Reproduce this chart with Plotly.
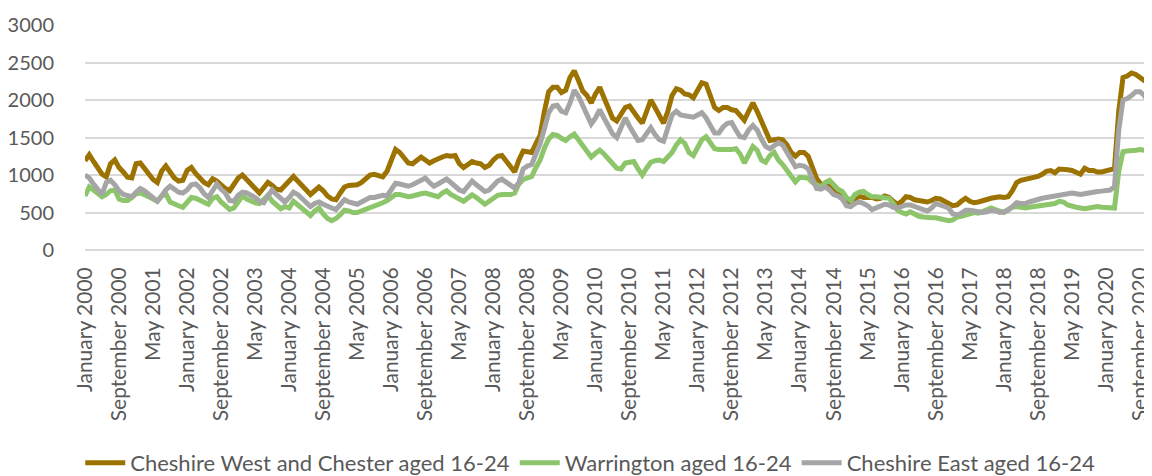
import plotly.graph_objects as go

# monthly claimant counts, January 2000 - January 2021 (one line per year)
cheshire_west = [
    1190, 1270, 1180, 1090, 1010, 975, 1150, 1200, 1100, 1040, 970, 960,      # 2000
    1150, 1160, 1090, 1010, 940, 900, 1050, 1120, 1040, 960, 920, 930,        # 2001
    1060, 1100, 1020, 960, 900, 870, 950, 920, 860, 820, 790, 880,            # 2002
    960, 1000, 950, 880, 820, 760, 830, 900, 860, 810, 800, 850,              # 2003
    920, 980, 930, 860, 800, 740, 790, 840, 790, 720, 680, 670,               # 2004
    760, 840, 860, 870, 870, 900, 950, 1000, 1010, 990, 975, 1050,            # 2005
    1200, 1340, 1300, 1220, 1160, 1150, 1200, 1240, 1200, 1160, 1190, 1220,   # 2006
    1240, 1260, 1250, 1260, 1150, 1100, 1150, 1180, 1160, 1150, 1100, 1130,   # 2007
    1200, 1250, 1260, 1180, 1100, 1040, 1200, 1320, 1310, 1300, 1420, 1530,   # 2008
    1850, 2110, 2170, 2170, 2100, 2130, 2300, 2390, 2260, 2120, 2060, 1960,   # 2009
    2080, 2170, 2030, 1900, 1760, 1720, 1820, 1900, 1920, 1830, 1760, 1690,   # 2010
    1850, 2000, 1900, 1780, 1690, 1850, 2060, 2150, 2130, 2080, 2070, 2030,   # 2011
    2120, 2230, 2210, 2060, 1900, 1860, 1900, 1900, 1870, 1860, 1800, 1730,   # 2012
    1850, 1960, 1850, 1720, 1580, 1460, 1470, 1480, 1470, 1400, 1300, 1250,   # 2013
    1300, 1300, 1250, 1080, 950, 880, 860, 860, 790, 760, 720, 630,           # 2014
    620, 680, 720, 700, 700, 700, 680, 690, 720, 700, 650, 610,               # 2015
    650, 710, 700, 670, 660, 650, 640, 660, 690, 680, 640, 620,               # 2016
    590, 600, 650, 690, 650, 630, 640, 660, 680, 690, 700, 710,               # 2017
    700, 710, 790, 900, 930, 940, 950, 960, 980, 1010, 1050, 1060,            # 2018
    1030, 1080, 1080, 1070, 1060, 1040, 1010, 1090, 1060, 1060, 1040, 1040,   # 2019
    1050, 1060, 1085, 1850, 2300, 2320, 2360, 2340, 2300, 2280, 2240, 2180,   # 2020
    2080,                                                                      # 2021
]

warrington = [
    720, 840, 800, 760, 710, 740, 790, 800, 680, 660, 660, 700,               # 2000
    750, 760, 740, 710, 680, 650, 720, 750, 640, 610, 590, 570,               # 2001
    640, 700, 690, 660, 630, 610, 690, 710, 640, 600, 540, 560,               # 2002
    640, 720, 680, 650, 630, 620, 680, 730, 650, 590, 550, 580,               # 2003
    560, 650, 600, 540, 490, 460, 520, 560, 480, 420, 390, 420,               # 2004
    470, 530, 520, 500, 500, 520, 540, 570, 580, 600, 630, 660,               # 2005
    700, 740, 740, 720, 710, 720, 740, 750, 760, 740, 720, 710,               # 2006
    760, 790, 740, 700, 680, 650, 700, 735, 700, 650, 610, 650,               # 2007
    690, 730, 740, 735, 740, 760, 880, 940, 960, 980, 1100, 1200,             # 2008
    1360, 1480, 1540, 1530, 1490, 1460, 1510, 1545, 1470, 1390, 1320, 1240,   # 2009
    1290, 1330, 1280, 1220, 1150, 1090, 1080, 1160, 1170, 1180, 1080, 1000,   # 2010
    1090, 1170, 1190, 1200, 1180, 1250, 1300, 1400, 1470, 1420, 1300, 1260,   # 2011
    1380, 1470, 1510, 1420, 1350, 1340, 1340, 1330, 1340, 1350, 1280, 1160,   # 2012
    1280, 1380, 1330, 1200, 1170, 1260, 1300, 1200, 1140, 1060, 980, 910,     # 2013
    970, 960, 960, 900, 860, 840, 900, 930, 870, 810, 780, 700,               # 2014
    660, 740, 770, 780, 740, 710, 710, 700, 700, 690, 620, 530,               # 2015
    500, 480, 510, 480, 450, 440, 430, 430, 430, 420, 410, 390,               # 2016
    400, 440, 450, 470, 480, 500, 490, 510, 540, 560, 540, 520,               # 2017
    500, 540, 570, 580, 570, 560, 570, 580, 590, 600, 605, 610,               # 2018
    620, 650, 640, 600, 580, 570, 560, 550, 560, 575, 580, 570,               # 2019
    570, 565, 560, 1050, 1310, 1320, 1320, 1330, 1340, 1330, 1300, 1250,      # 2020
    1210,                                                                      # 2021
]

cheshire_east = [
    1000, 960, 880, 800, 740, 900, 930, 870, 790, 740, 720, 710,              # 2000
    770, 820, 790, 740, 690, 650, 720, 800, 850, 800, 770, 760,               # 2001
    800, 870, 880, 830, 750, 700, 800, 880, 810, 760, 660, 650,               # 2002
    730, 770, 760, 730, 700, 650, 630, 720, 800, 740, 680, 640,               # 2003
    700, 770, 740, 690, 620, 580, 620, 640, 610, 580, 560, 540,               # 2004
    600, 670, 640, 620, 610, 640, 680, 700, 700, 710, 730, 720,               # 2005
    820, 890, 880, 860, 850, 870, 900, 930, 960, 900, 850, 880,               # 2006
    920, 945, 900, 850, 800, 780, 860, 920, 870, 820, 780, 800,               # 2007
    870, 920, 945, 900, 860, 825, 900, 1080, 1120, 1140, 1280, 1420,          # 2008
    1620, 1830, 1920, 1930, 1850, 1830, 1960, 2130, 2050, 1920, 1800, 1680,   # 2009
    1760, 1870, 1760, 1650, 1550, 1500, 1620, 1760, 1650, 1560, 1460, 1470,   # 2010
    1550, 1630, 1540, 1470, 1450, 1650, 1800, 1850, 1800, 1790, 1780, 1770,   # 2011
    1800, 1830, 1760, 1650, 1560, 1560, 1640, 1690, 1700, 1600, 1510, 1500,   # 2012
    1600, 1660, 1600, 1480, 1380, 1350, 1400, 1430, 1400, 1300, 1200, 1110,   # 2013
    1130, 1120, 1080, 950, 820, 810, 840, 800, 740, 720, 680, 590,            # 2014
    580, 620, 640, 620, 590, 540, 560, 590, 610, 600, 570, 560,               # 2015
    580, 600, 600, 580, 560, 530, 520, 560, 620, 600, 580, 560,               # 2016
    480, 470, 490, 530, 530, 520, 510, 500, 510, 530, 520, 500,               # 2017
    510, 530, 580, 630, 620, 620, 640, 660, 670, 690, 700, 710,               # 2018
    720, 730, 750, 765, 760, 750, 740, 750, 765, 780, 780, 785,               # 2019
    790, 800, 845, 1600, 2000, 2020, 2060, 2110, 2110, 2060, 1980, 1940,      # 2020
    1890,                                                                      # 2021
]

month_names = ['January', 'February', 'March', 'April', 'May', 'June', 'July',
               'August', 'September', 'October', 'November', 'December']
years = list(range(2000, 2022))
months = [f'{m} {y}' for y in years for m in month_names][:len(cheshire_west)]

series = [
    ('Cheshire West and Chester aged 16-24', cheshire_west, '#9C7200'),
    ('Warrington aged 16-24', warrington, '#8DC56B'),
    ('Cheshire East aged 16-24', cheshire_east, '#A5A5A5'),
]

fig = go.Figure()
for name, values, colour in series:
    fig.add_trace(go.Scatter(
        x=months, y=values, name=name, mode='lines',
        line=dict(color=colour, width=5),
    ))

# Excel-style label every 8th month
tick_labels = months[::8]

fig.update_layout(
    width=1152, height=476,
    margin=dict(l=77, r=0, t=17, b=230),
    paper_bgcolor='white', plot_bgcolor='white',
    font=dict(family='Lato', size=21, color='#595959'),
    legend=dict(orientation='h', x=0.47, xanchor='center', y=-0.95, yanchor='middle',
                font=dict(size=22, color='#595959'), itemwidth=40,
                tracegroupgap=0),
    showlegend=True,
)
fig.update_xaxes(
    type='category', range=[0, 252.7],
    tickvals=tick_labels, ticktext=tick_labels, tickangle=-90,
    showgrid=False, showline=False, ticks='', ticklabelstandoff=12,
)
fig.update_yaxes(
    range=[0, 3000], dtick=500, showgrid=True, gridcolor='#D9D9D9', gridwidth=1.5,
    zeroline=True, zerolinecolor='#D9D9D9', zerolinewidth=1.5,
    ticks='outside', ticklen=26, tickcolor='rgba(0,0,0,0)',
    tickfont=dict(size=20),
)

fig.write_html('out.html')
